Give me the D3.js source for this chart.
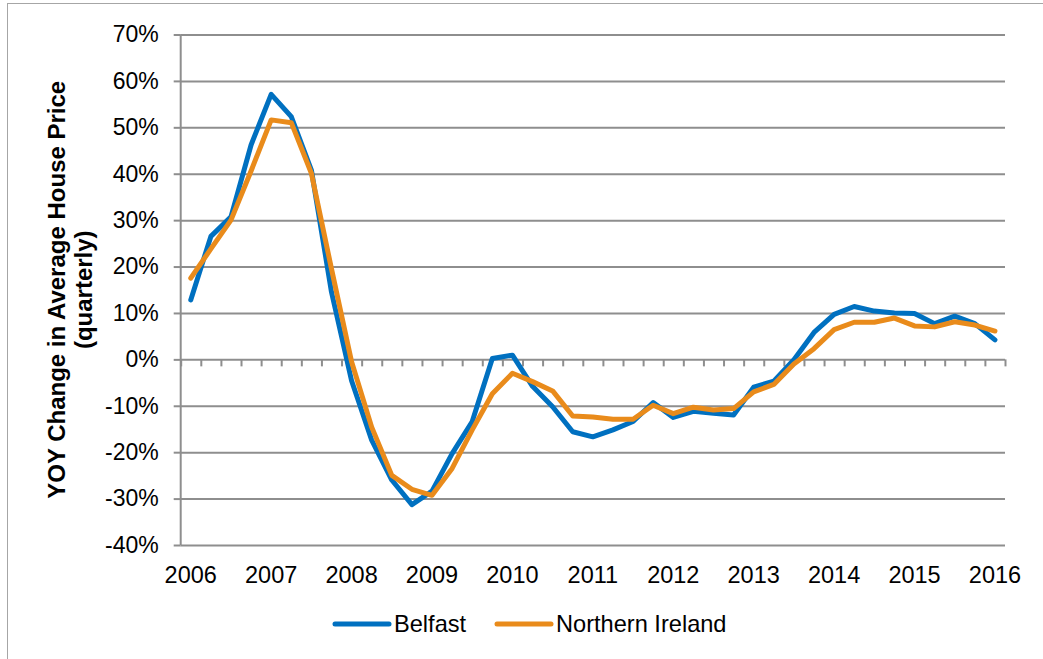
<!DOCTYPE html>
<html>
<head>
<meta charset="utf-8">
<script src="https://cdn.jsdelivr.net/npm/d3@7"></script>
<style>
    body { margin: 0; background: #fff; }
    svg { display: block; font-family: "Liberation Sans", Arial, sans-serif; }
</style>
</head>
<body>
<div id="chart"></div>
<script>
// quarterly categories, 2006 Q1 .. 2016 Q1
const years = [2006, 2007, 2008, 2009, 2010, 2011, 2012, 2013, 2014, 2015, 2016];
const quarters = ['Q1', 'Q2', 'Q3', 'Q4'];

// YOY change, %
const belfast = [
    12.8, 26.5, 30.7, 46.2, 57.1, 52.3, 40.8, 14.5,
    -4.6, -17.4, -26.0, -31.3, -28.4, -20.3, -13.4, 0.2,
    0.9, -5.8, -10.2, -15.6, -16.7, -15.2, -13.4, -9.3,
    -12.5, -11.2, -11.6, -12.0, -6.0, -4.7, -0.1, 5.8,
    9.7, 11.4, 10.4, 10.0, 9.9, 7.7, 9.3, 7.7,
    4.2
];
const northernIreland = [
    17.5, 23.8, 30.0, 40.6, 51.6, 51.0, 40.1, 19.5,
    -0.5, -14.6, -25.0, -28.0, -29.3, -23.5, -15.2, -7.4,
    -3.0, -4.8, -6.8, -12.2, -12.4, -12.9, -12.9, -9.9,
    -11.7, -10.3, -10.9, -10.6, -7.0, -5.4, -1.0, 2.3,
    6.4, 8.0, 8.0, 8.9, 7.2, 7.0, 8.1, 7.4,
    6.1
];
const yTicks = [-40, -30, -20, -10, 0, 10, 20, 30, 40, 50, 60, 70];

const categories = [];
years.forEach(function (yr) {
    quarters.forEach(function (q) {
        if (categories.length < belfast.length) categories.push(yr + ' ' + q);
    });
});

const W = 1043, H = 659;
const plotLeft = 180.7, plotRight = 1005, plotTop = 34.5, plotBottom = 545;
const gridColor = '#8e8e8e';

const svg = d3.select('#chart').append('svg')
    .attr('width', W)
    .attr('height', H);

// outer chart border
svg.append('rect')
    .attr('x', 7.5).attr('y', 3.5)
    .attr('width', W).attr('height', H)
    .attr('fill', 'none')
    .attr('stroke', '#a6a6a6')
    .attr('stroke-width', 1);

const x = d3.scaleBand()
    .domain(categories)
    .range([plotLeft, plotRight])
    .paddingInner(0).paddingOuter(0);

const xEdge = d3.scaleLinear()
    .domain([0, categories.length])
    .range([plotLeft, plotRight]);

const y = d3.scaleLinear()
    .domain([-40, 70])
    .range([plotBottom, plotTop]);

// gridlines
svg.append('g')
    .attr('transform', `translate(${plotLeft},0)`)
    .call(d3.axisLeft(y).tickValues(yTicks).tickSize(-(plotRight - plotLeft)).tickFormat(''))
    .call(function (g) { g.select('.domain').remove(); })
    .selectAll('line')
    .attr('stroke', gridColor)
    .attr('stroke-width', 2);

// y axis
const yAxis = svg.append('g')
    .attr('transform', `translate(${plotLeft},0)`)
    .call(d3.axisLeft(y).tickValues(yTicks).tickSize(7).tickPadding(15)
        .tickFormat(function (d) { return d + '%'; }));
yAxis.select('.domain')
    .attr('stroke', gridColor).attr('stroke-width', 2)
    .attr('d', `M0,${plotTop}V${plotBottom}`);
yAxis.selectAll('line').attr('stroke', gridColor).attr('stroke-width', 2);
yAxis.selectAll('text')
    .style('font-size', '23px')
    .attr('fill', '#000');

// category tick marks on the zero line
svg.append('g')
    .attr('transform', `translate(0,${y(0)})`)
    .call(d3.axisBottom(xEdge).tickValues(d3.range(categories.length + 1)).tickSize(7).tickFormat(''))
    .call(function (g) { g.select('.domain').remove(); })
    .selectAll('line')
    .attr('stroke', gridColor)
    .attr('stroke-width', 2);

// year labels under the plot
svg.append('g')
    .attr('transform', `translate(0,${plotBottom})`)
    .call(d3.axisBottom(x)
        .tickValues(categories.filter(function (c) { return c.endsWith('Q1'); }))
        .tickSize(0).tickPadding(21)
        .tickFormat(function (c) { return c.slice(0, 4); }))
    .call(function (g) { g.select('.domain').remove(); })
    .selectAll('text')
    .style('font-size', '23.5px')
    .attr('fill', '#000');

// axis title
const title = svg.append('text')
    .attr('transform', `translate(0,${(plotTop + plotBottom) / 2}) rotate(-90)`)
    .attr('text-anchor', 'middle')
    .style('font-size', '24px')
    .style('font-weight', 'bold');
title.append('tspan').attr('x', 0).attr('y', 65).text('YOY Change in Average House Price');
title.append('tspan').attr('x', 0).attr('y', 92).text('(quarterly)');

const series = [
    {name: 'Belfast', values: belfast, color: '#0070c0'},
    {name: 'Northern Ireland', values: northernIreland, color: '#e98b1b'}
];

const line = d3.line()
    .x(function (d, i) { return x(categories[i]) + x.bandwidth() / 2; })
    .y(function (d) { return y(d); });

svg.append('g')
    .selectAll('path')
    .data(series)
    .enter()
    .append('path')
    .attr('d', function (d) { return line(d.values); })
    .attr('fill', 'none')
    .attr('stroke', function (d) { return d.color; })
    .attr('stroke-width', 5)
    .attr('stroke-linejoin', 'round')
    .attr('stroke-linecap', 'round');

// legend
const legendX = [335, 497];
const legend = svg.append('g')
    .selectAll('g')
    .data(series)
    .enter()
    .append('g')
    .attr('transform', function (d, i) { return `translate(${legendX[i]},624)`; });

legend.append('line')
    .attr('x1', 0).attr('x2', 54)
    .attr('stroke', function (d) { return d.color; })
    .attr('stroke-width', 5)
    .attr('stroke-linecap', 'round');

legend.append('text')
    .attr('x', 59)
    .attr('dy', '0.35em')
    .style('font-size', '23.6px')
    .text(function (d) { return d.name; });
</script>
</body>
</html>
